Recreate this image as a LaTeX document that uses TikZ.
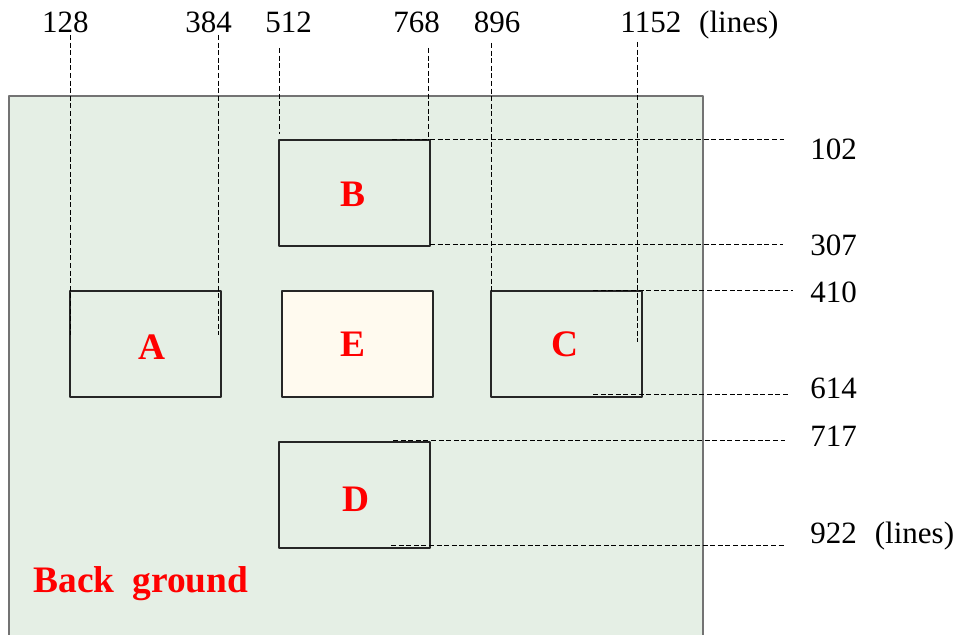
\documentclass[tikz,border=0pt]{standalone}
\usepackage{fontspec}
\setmainfont{Liberation Serif}
\definecolor{bgfill}{HTML}{E5EFE5}
\definecolor{efill}{HTML}{FFFAEF}
\tikzset{
  blk/.style={draw=black!85, line width=0.6pt, fill=bgfill, minimum width=75.5pt, minimum height=53pt, inner sep=0pt},
  tag/.style={text=red, inner sep=0pt, font=\fontsize{18.7}{22}\selectfont\bfseries},
  guide/.style={line width=0.5pt, dash pattern=on 2.5pt off 1.3pt},
  num/.style={inner sep=0pt, font=\fontsize{15.5}{18}\selectfont},
}
\begin{document}
\begin{tikzpicture}[x=0.5pt, y=-0.5pt, line join=round]
			\useasboundingbox (0,0) rectangle (959,635);
			% background area
			\fill[bgfill] (9,96) rectangle (703,636);
			\draw[black!55, line width=0.6pt] (9,636)--(9,96)--(703,96)--(703,636);
			% regions
			\node[blk] (B) at (354.5,193) {};
			\node[blk] (A) at (145.5,344) {};
			\node[blk, fill=efill] (E) at (357.5,344) {};
			\node[blk] (C) at (566.5,344) {};
			\node[blk] (D) at (354.5,495) {};
			\node[tag] (Bname) at (353,194) {B};
			\node[tag] (Aname) at (152,347) {A};
			\node[tag] (Ename) at (353,344) {E};
			\node[tag] (Cname) at (565,344) {C};
			\node[tag] (Dname) at (356,499) {D};
			\node[tag, anchor=base west] (bgname) at (33,593) {Back\hspace{9pt}ground};
			% guide lines
			\foreach \n/\x/\ya/\yb in {128/70/35/335, 384/218/35/335, 512/279/48/134, 768/428/48/140, 896/491/43/291, 1152/637/42/342}
				\draw[guide] (\x,\ya) coordinate (v\n a)--(\x,\yb) coordinate (v\n b);
			\foreach \n/\y/\xa/\xb in {102/140/392/784, 307/245/430/783, 410/291/593/793, 614/395/593/790, 717/441/393/785, 922/546/391/785}
				\draw[guide] (\xa,\y) coordinate (h\n a)--(\xb,\y) coordinate (h\n b);
			% line numbers
			\foreach \x/\t in {65.5/128, 208.5/384, 288.5/512, 416.5/768, 497/896}
				\node[num, anchor=base] (top\t) at (\x,33) {\t};
			\node[num, anchor=base west] (top1152) at (620,33) {1152\hspace{9pt}(lines)};
			\foreach \y/\t in {159.5/102, 255.5/307, 303/410, 399/614, 447/717}
				\node[num, anchor=base west] (side\t) at (810,\y) {\t};
			\node[num, anchor=base west] (side922) at (810,544) {922\hspace{9pt}(lines)};
\end{tikzpicture}
\end{document}
